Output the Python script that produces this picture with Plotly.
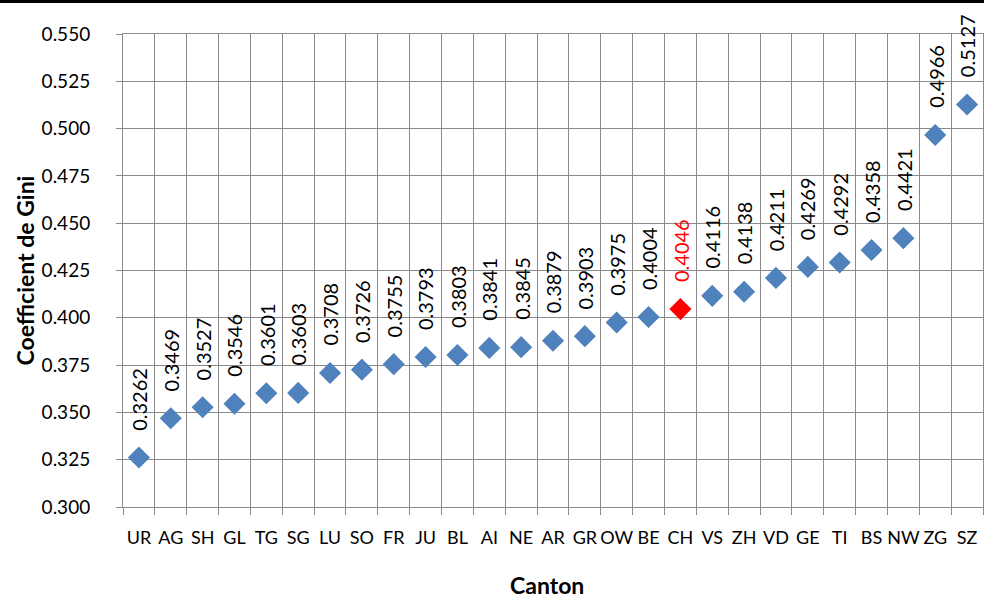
import plotly.graph_objects as go

cantons = ["UR", "AG", "SH", "GL", "TG", "SG", "LU", "SO", "FR", "JU", "BL", "AI", "NE", "AR",
           "GR", "OW", "BE", "CH", "VS", "ZH", "VD", "GE", "TI", "BS", "NW", "ZG", "SZ"]
gini = [0.3262, 0.3469, 0.3527, 0.3546, 0.3601, 0.3603, 0.3708, 0.3726, 0.3755, 0.3793,
        0.3803, 0.3841, 0.3845, 0.3879, 0.3903, 0.3975, 0.4004, 0.4046, 0.4116, 0.4138,
        0.4211, 0.4269, 0.4292, 0.4358, 0.4421, 0.4966, 0.5127]
highlight = "CH"

BLUE = "#4F81BD"
RED = "#FF0000"
GRID = "#8A8A8A"
FONT = "Lato"

colors = [RED if c == highlight else BLUE for c in cantons]

fig = go.Figure()
fig.add_trace(go.Scatter(
    x=cantons, y=gini, mode="markers",
    marker=dict(symbol="diamond", size=17, color=colors, line=dict(width=0)),
    showlegend=False, hoverinfo="x+y", cliponaxis=False,
))

for c, v, col in zip(cantons, gini, colors):
    fig.add_annotation(
        x=c, y=v, text=f"{v:.4f}", showarrow=False, textangle=-90,
        xanchor="center", yanchor="bottom", yshift=25,
        font=dict(family=FONT, size=20, color="#000000" if col == BLUE else RED),
    )

W, H = 984, 601
ML, MR, MT, MB = 123, 1, 34, 94
pw, ph = W - ML - MR, H - MT - MB

# axis titles placed as annotations
fig.add_annotation(xref="paper", yref="paper", x=(24 - ML) / pw, y=0.5,
                   text="<b>Coefficient de Gini</b>", textangle=-90, showarrow=False,
                   xanchor="center", yanchor="middle",
                   font=dict(family=FONT, size=23, color="#000000"))
fig.add_annotation(xref="paper", yref="paper", x=(547 - ML) / pw, y=-(585 - (MT + ph)) / ph,
                   text="<b>Canton</b>", showarrow=False,
                   xanchor="center", yanchor="middle",
                   font=dict(family=FONT, size=23, color="#000000"))

# top black border line of the image
fig.add_shape(type="line", xref="paper", yref="paper",
              x0=-ML / pw, x1=(W - ML) / pw,
              y0=1 + (MT - 1.5) / ph, y1=1 + (MT - 1.5) / ph,
              line=dict(color="#000000", width=3))

fig.update_layout(
    width=W, height=H,
    margin=dict(l=ML, r=MR, t=MT, b=MB),
    plot_bgcolor="white", paper_bgcolor="white",
    font=dict(family=FONT, size=20, color="#000000"),
    xaxis=dict(
        type="category", tickson="boundaries", automargin=False,
        showgrid=True, gridcolor=GRID, gridwidth=1,
        showline=True, linecolor=GRID, linewidth=1, mirror=True,
        ticks="outside", ticklen=7, tickcolor=GRID, tickangle=0,
        ticklabelstandoff=14,
        tickfont=dict(family=FONT, size=18),
        range=[-0.5, len(cantons) - 0.5],
    ),
    yaxis=dict(
        range=[0.3, 0.55], dtick=0.025, tickformat=".3f", automargin=False,
        showgrid=True, gridcolor=GRID, gridwidth=1, zeroline=False,
        showline=True, linecolor=GRID, linewidth=1, mirror=True,
        ticks="outside", ticklen=6, tickcolor=GRID,
        ticklabelstandoff=22,
        tickfont=dict(family=FONT, size=19),
    ),
)

fig.write_html("out.html", config={"displayModeBar": False},
               post_script="document.body.style.margin='0';")
